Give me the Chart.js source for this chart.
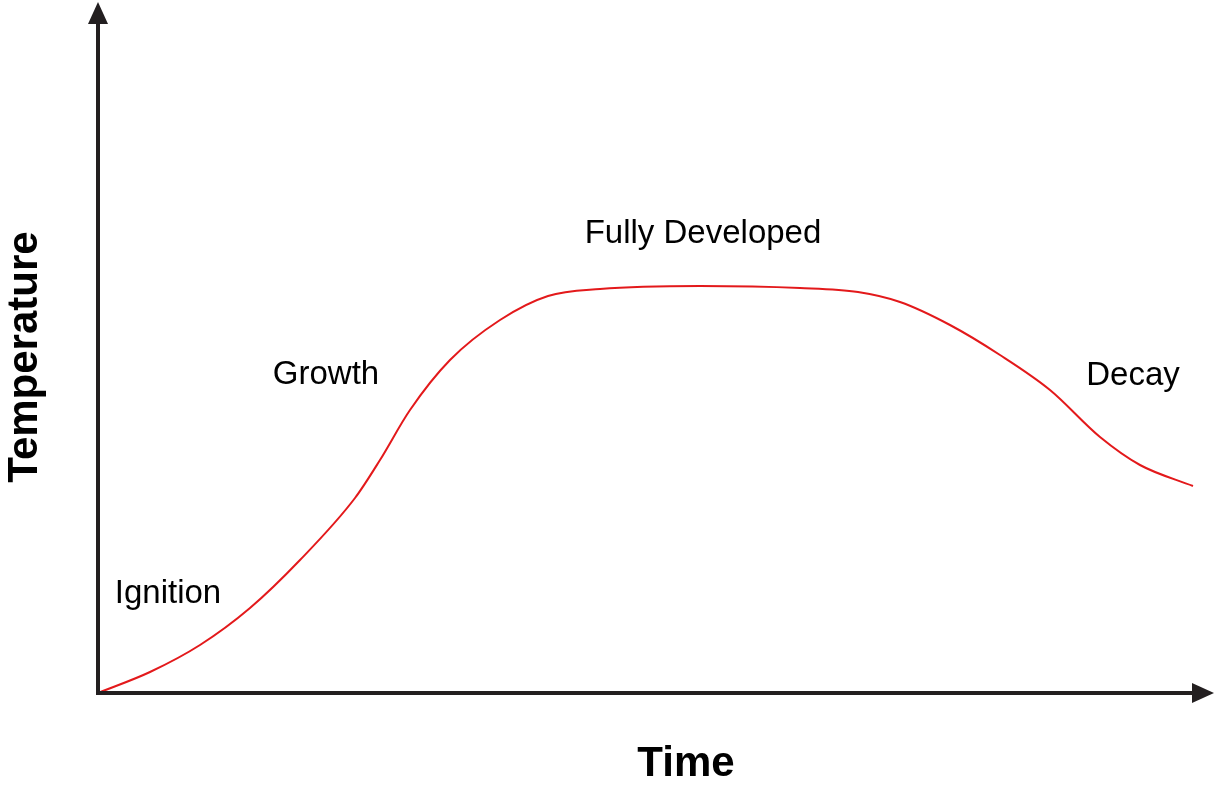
<!DOCTYPE html>
<html><head><meta charset="utf-8">
<script src="https://cdn.jsdelivr.net/npm/chart.js@4"></script>
<style>html,body{margin:0;padding:0;background:#fff}#c{display:block}</style>
</head><body>
<div style="width:1216px;height:795px"><canvas id="c"></canvas></div>
<script>
const timeVals = [0,52,102,152,202,257,282,312,352,402,450,502,602,702,760,802,852,902,952,1002,1042,1095];
const tempVals = [0,21,48,85,133,195,233,283,333,373,397,404,407,405,401,391,368,338,303,256,228,207];
const phaseLabels = ["Ignition","Growth","Fully Developed","Decay"];
const phaseX = [70,228,605,1035];
const phaseY = [99,318,459,317];
const xTitle = "Time", yTitle = "Temperature";

const overlay = {
  id:'overlay',
  afterDraw(chart){
    const {ctx, chartArea:a, scales:{x,y}} = chart;
    ctx.save();
    ctx.strokeStyle='#231f20'; ctx.fillStyle='#231f20'; ctx.lineWidth=4;
    ctx.beginPath(); ctx.moveTo(a.left, 20); ctx.lineTo(a.left, a.bottom); ctx.lineTo(1200, a.bottom); ctx.stroke();
    ctx.beginPath(); ctx.moveTo(a.left,2); ctx.lineTo(a.left-10,24); ctx.lineTo(a.left+10,24); ctx.closePath(); ctx.fill();
    ctx.beginPath(); ctx.moveTo(1214,a.bottom); ctx.lineTo(1192,a.bottom-10); ctx.lineTo(1192,a.bottom+10); ctx.closePath(); ctx.fill();
    ctx.fillStyle='#000';
    ctx.font='33px Arial, "Liberation Sans", sans-serif'; ctx.textAlign='center'; ctx.textBaseline='middle';
    phaseLabels.forEach((t,i)=>ctx.fillText(t, x.getPixelForValue(phaseX[i]), y.getPixelForValue(phaseY[i])));
    ctx.font='bold 42px Arial, "Liberation Sans", sans-serif';
    ctx.fillText(xTitle, 686, 764);
    ctx.translate(25,357); ctx.rotate(-Math.PI/2); ctx.fillText(yTitle,0,0);
    ctx.restore();
  }
};
new Chart(document.getElementById('c'),{
  type:'line',
  data:{datasets:[{data:timeVals.map((t,i)=>({x:t,y:tempVals[i]})),borderColor:'#e3191b',borderWidth:2,pointRadius:0,cubicInterpolationMode:'monotone',fill:false}]},
  options:{responsive:true,maintainAspectRatio:false,animation:false,
    layout:{padding:{left:98,right:18,top:10,bottom:102}},
    plugins:{legend:{display:false},tooltip:{enabled:false}},
    scales:{x:{type:'linear',min:0,max:1100,display:false},y:{min:0,max:683,display:false}}},
  plugins:[overlay]
});
</script></body></html>
